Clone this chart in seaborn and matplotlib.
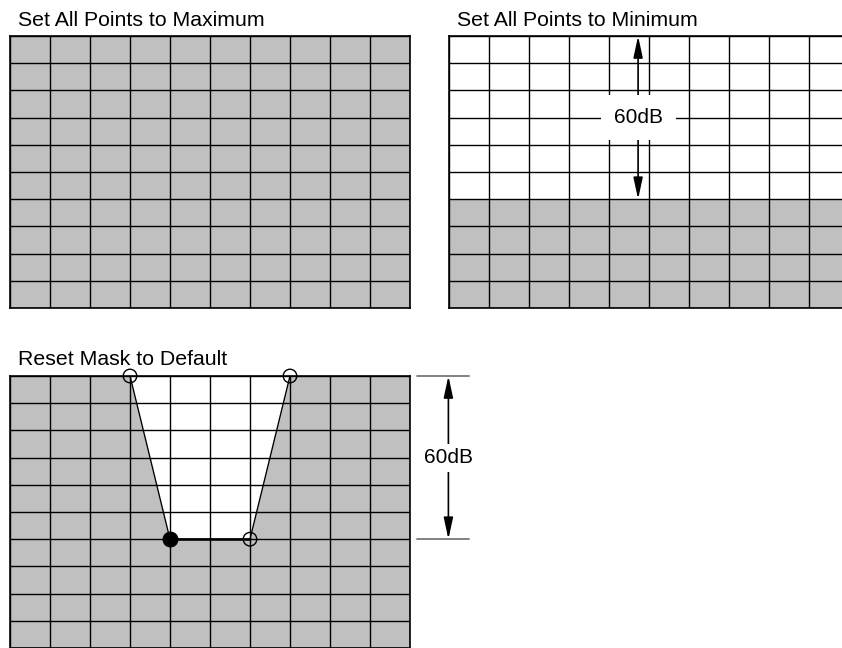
import numpy as np
import pandas as pd
import matplotlib
matplotlib.use("Agg")
import matplotlib.pyplot as plt
from matplotlib.colors import ListedColormap
import seaborn as sns

# Grid layout (10 columns x 10 rows per panel)
n_cols = 10
n_rows = 10

# Panel titles
titles = ["Set All Points to Maximum", "Set All Points to Minimum", "Reset Mask to Default"]

# Panel fills: 1 = gray (masked), 0 = white
max_fill = np.ones((n_rows, n_cols))
min_white_rows = 6
min_fill = np.vstack([np.zeros((min_white_rows, n_cols)), np.ones((n_rows - min_white_rows, n_cols))])
default_fill = np.ones((n_rows, n_cols))

# Default mask breakpoints (column, row from top)
mask_x = [3, 4, 6, 7]
mask_y = [0, 6, 6, 0]
mask_filled = [False, True, False, False]

# dB span annotation
span_label = "60dB"
span_top = 0
span_bottom = 6

sns.set_theme(style="white")
plt.rcParams['font.family'] = ['Liberation Sans', 'DejaVu Sans']
plt.rcParams['text.color'] = 'black'

gray = "#c0c0c0"
cmap = ListedColormap(["white", gray])

fig = plt.figure(figsize=(8.42, 6.48), dpi=100)
W, H = 842, 648


def add_panel(left, top, width=400, height=272):
    return fig.add_axes([left / W, 1 - (top + height) / H, width / W, height / H])


def draw_grid(ax, fill):
    sns.heatmap(pd.DataFrame(fill), ax=ax, cmap=cmap, vmin=0, vmax=1, cbar=False,
                linewidths=0, xticklabels=False, yticklabels=False)
    for s in ax.spines.values():
        s.set_visible(True)
        s.set_color("black")
        s.set_linewidth(1.2)


def grid_lines(ax):
    ax.hlines(np.arange(n_rows + 1), 0, n_cols, color="black", lw=1.0, zorder=3)
    ax.vlines(np.arange(n_cols + 1), 0, n_rows, color="black", lw=1.0, zorder=3)
    ax.set_xlim(0, n_cols)
    ax.set_ylim(n_rows, 0)


def span_arrow(ax, x, pad):
    ax.annotate("", xy=(x, span_top), xytext=(x, span_bottom),
                arrowprops=dict(arrowstyle="<|-|>,head_length=1.3,head_width=0.28",
                                mutation_scale=10, color="black", lw=1.2,
                                shrinkA=0, shrinkB=0), annotation_clip=False, zorder=4)
    ax.text(x, (span_top + span_bottom) / 2, span_label, fontsize=15,
            ha="center", va="center", zorder=5, clip_on=False,
            bbox=dict(boxstyle="square,pad=%s" % pad, fc="white", ec="none"))


ax1 = add_panel(10, 36)
draw_grid(ax1, max_fill)
grid_lines(ax1)
ax1.text(0.02, 1.037, titles[0], transform=ax1.transAxes, fontsize=15.3, va="baseline")

ax2 = add_panel(448.5, 36)
draw_grid(ax2, min_fill)
grid_lines(ax2)
ax2.text(0.02, 1.037, titles[1], transform=ax2.transAxes, fontsize=15.3, va="baseline")
span_arrow(ax2, 4.74, 0.62)

ax3 = add_panel(10, 376)
draw_grid(ax3, default_fill)
ax3.fill(mask_x, mask_y, color="white", zorder=2)
grid_lines(ax3)
sns.lineplot(x=mask_x, y=mask_y, ax=ax3, color="black", lw=1.0, sort=False, zorder=4)
ax3.plot(mask_x[1:3], mask_y[1:3], color="black", lw=1.8, zorder=4)
mx = np.array(mask_x)
my = np.array(mask_y)
mf = np.array(mask_filled)
ax3.scatter(mx[~mf], my[~mf], s=95, facecolors="none", edgecolors="black", lw=1.0,
            zorder=6, clip_on=False)
ax3.scatter(mx[mf], my[mf], s=110, color="black", zorder=6, clip_on=False)
ax3.set_xlim(0, n_cols)
ax3.set_ylim(n_rows, 0)
ax3.text(0.02, 1.04, titles[2], transform=ax3.transAxes, fontsize=15.3, va="baseline")

# span marker to the right of the bottom panel
ref_x0, ref_x1 = 10.18, 11.48
for yy in (span_top, span_bottom):
    ax3.plot([ref_x0, ref_x1], [yy, yy], color="#777777", lw=1.3, clip_on=False)
span_arrow(ax3, 10.96, 0.22)

fig.savefig("out.png", dpi=100)
